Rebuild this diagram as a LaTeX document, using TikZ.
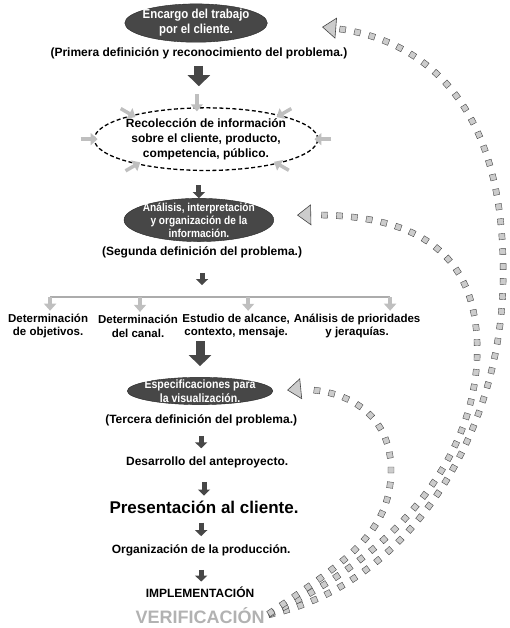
\documentclass[tikz,border=0pt]{standalone}
\usepackage{fontspec}
\setmainfont{Liberation Sans}
\newfontfamily\estrecha[FakeStretch=0.88]{Liberation Sans}
\usetikzlibrary{shapes.geometric}
\usetikzlibrary{arrows.meta}
\usetikzlibrary{decorations.markings}
\usetikzlibrary{calc}

\tikzset{
  texto/.style={font=\bfseries\fontsize{12}{14}\selectfont, align=center, inner sep=2pt},
  columna/.style={font=\bfseries\fontsize{11.5}{13.5}\selectfont, align=center, inner sep=2pt},
  oscura/.style={ellipse, fill=black!72, draw=black!85, text=white, align=center,
    font=\estrecha\bfseries\fontsize{13}{15}\selectfont, inner xsep=-3pt, inner ysep=0pt},
  bajada/.style={draw=black!72, line width=9pt, -{Triangle[length=11pt,width=22pt]}},
  bajadita/.style={draw=black!72, line width=5pt, -{Triangle[length=6pt,width=12pt]}},
  gris/.style={draw=gray!50, line width=3.5pt, -{Triangle[length=7pt,width=12pt]}},
  retorno/.style={postaction={decorate}, decoration={markings,
    mark=between positions 5pt and -20pt step 15pt with {
      \filldraw[fill=gray!40, draw=gray!55!black, line width=0.4pt] (-3pt,-3pt) rectangle (3pt,3pt);}}},
  puntagris/.style={draw=gray!40, line width=0.6pt,
    -{Triangle[length=14pt,width=21pt,color=gray!55!black,fill=gray!40]}}
}

\begin{document}
\begin{tikzpicture}
  \useasboundingbox (0,0) rectangle (17.92,-22.07);

  \node[oscura] (enc) at (6.89,-0.81) {Encargo del trabajo\\por el cliente.};
  \node[texto] (prim) at (6.99,-1.86) {(Primera definición y reconocimiento del problema.)};

  \node[texto, ellipse, draw, dash pattern=on 4pt off 2.5pt, line width=1.3pt,
    inner xsep=-1pt, inner ysep=1.5pt, font=\bfseries\fontsize{12}{15}\selectfont] (rec) at (7.24,-4.89)
    {Recolección de información\\sobre el cliente, producto,\\competencia, público.};
  \foreach \a/\o [count=\i] in {106/90, 162/150, 180/180, 200/210, 18/30, 0/0, 341/330} {
    \coordinate (g\i) at ($(rec.\a)+(\o:13pt)$);
    \draw[gris, shorten >=-4pt] (g\i) -- (rec.\a);
  }

  \node[oscura, font=\estrecha\bfseries\fontsize{11.5}{13}\selectfont, inner ysep=-2pt] (ana) at (6.99,-7.73)
    {Análisis, interpretación\\y organización de la\\información.};
  \node[texto] (seg) at (7.10,-8.86) {(Segunda definición del problema.)};

  % llave de las cuatro tareas
  \coordinate (b1) at (1.76,-10.44);
  \coordinate (b2) at (4.92,-10.44);
  \coordinate (b3) at (8.72,-10.44);
  \coordinate (b4) at (13.71,-10.44);
  \draw[draw=gray!65, line width=1.2pt] (b1) -- (b4);

  \node[columna] (c1) at (1.69,-11.46) {Determinación\\de objetivos.};
  \node[columna] (c2) at (4.85,-11.46) {Determinación\\del canal.};
  \node[columna] (c3) at (8.30,-11.46) {Estudio de alcance,\\contexto, mensaje.};
  \node[columna] (c4) at (12.55,-11.46) {Análisis de prioridades\\y jeraquías.};
  \foreach \i in {1,...,4}
    \draw[gris, shorten >=1pt] (b\i) -- (b\i |- c\i.north);

  \node[oscura, font=\estrecha\bfseries\fontsize{12}{14.5}\selectfont, inner xsep=-4pt, inner ysep=-2pt] (esp) at (7.03,-13.74)
    {Especificaciones para\\la visualización.};
  \node[texto] (ter) at (7.07,-14.76) {(Tercera definición del problema.)};
  \node[texto] (des) at (7.28,-16.24) {Desarrollo del anteproyecto.};
  \node[texto, font=\bfseries\fontsize{17}{20}\selectfont] (pre) at (7.17,-17.82) {Presentación al cliente.};
  \node[texto] (org) at (7.07,-19.33) {Organización de la producción.};
  \node[texto] (imp) at (7.03,-20.81) {IMPLEMENTACIÓN};
  \node[texto, text=gray!60, font=\bfseries\fontsize{18}{20}\selectfont] (ver) at (7.03,-21.62) {VERIFICACIÓN};

  % flechas hacia abajo
  \draw[bajada, shorten <=5pt, shorten >=21pt] (prim.south) -- (prim.south |- rec.north);
  \draw[bajadita, shorten <=14pt] (ana.north |- rec.south) -- (ana.north);
  \draw[bajadita, shorten <=13pt, shorten >=12pt] (seg.south) -- (seg.south |- b1);
  \draw[bajada, shorten <=1pt, shorten >=11pt] (c3.south -| esp.north) -- (esp.north);
  \draw[bajadita, shorten <=8pt, shorten >=6pt] (ter.south) -- (ter.south |- des.north);
  \draw[bajadita, shorten <=12pt, shorten >=3pt] (des.south -| pre.north) -- (pre.north);
  \draw[bajadita, shorten <=7pt, shorten >=6pt] (pre.south -| org.north) -- (org.north);
  \draw[bajadita, shorten <=12pt, shorten >=3pt] (org.south) -- (org.south |- imp.north);

  % retornos desde la verificacion
  \coordinate (fa) at (11.32,-0.95);
  \coordinate (fb) at (10.44,-7.56);
  \coordinate (fc) at (10.09,-13.71);
  \coordinate (pa) at (11.82,-0.99);
  \coordinate (pb) at (10.94,-7.55);
  \coordinate (pc) at (10.59,-13.66);
  \path[retorno] (ver.east) .. controls (14.41,-20.56) and (17.75,-15.11) .. (17.68,-9.49)
    .. controls (17.68,-3.87) and (15.11,-1.23) .. (fa);
  \path[retorno] (ver.east) .. controls (13.71,-19.68) and (16.77,-16.17) .. (16.77,-12.30)
    .. controls (16.77,-8.44) and (14.06,-7.45) .. (fb);
  \path[retorno] (ver.east) .. controls (11.95,-19.86) and (13.74,-18.81) .. (13.74,-16.52)
    .. controls (13.74,-14.41) and (11.95,-13.53) .. (fc);
  \draw[puntagris] (pa) -- (fa);
  \draw[puntagris] (pb) -- (fb);
  \draw[puntagris] (pc) -- (fc);
\end{tikzpicture}
\end{document}
